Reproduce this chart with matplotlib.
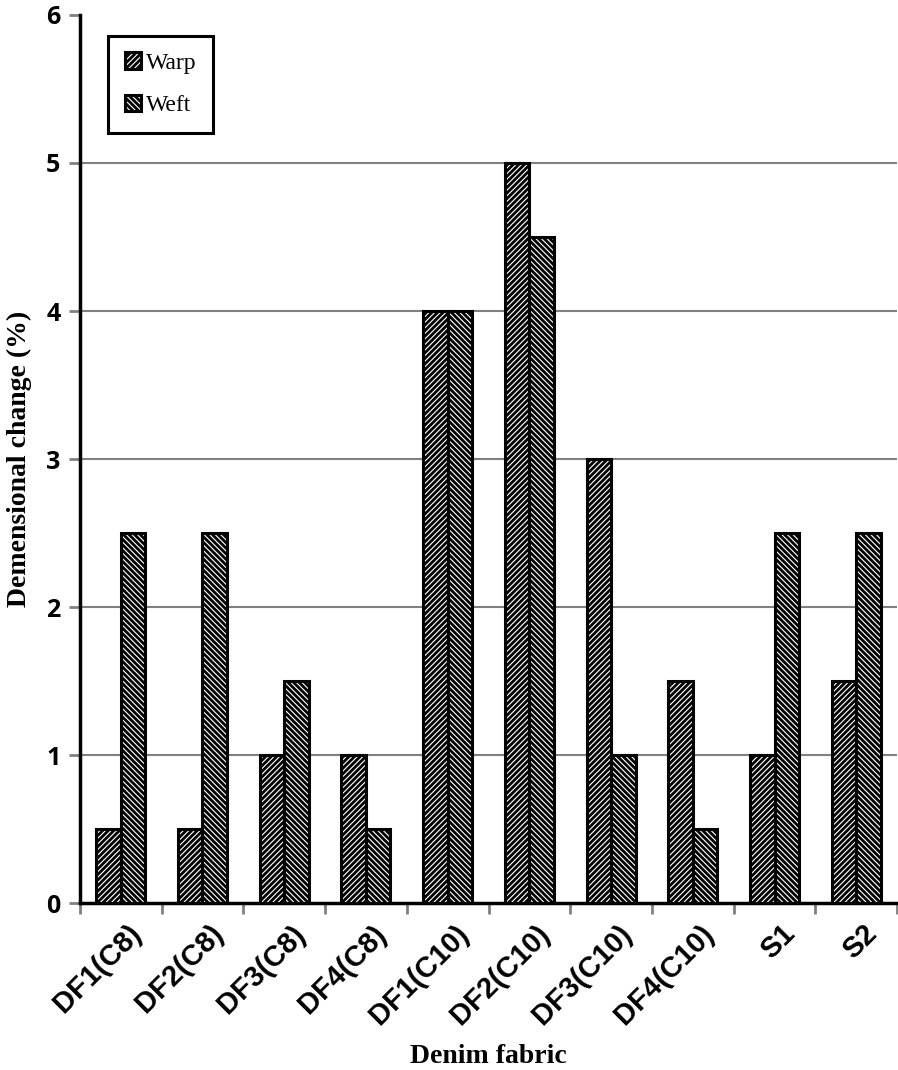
import matplotlib.pyplot as plt
import numpy as np

categories = ["DF1(C8)", "DF2(C8)", "DF3(C8)", "DF4(C8)", "DF1(C10)",
              "DF2(C10)", "DF3(C10)", "DF4(C10)", "S1", "S2"]
warp = [0.5, 0.5, 1.0, 1.0, 4.0, 5.0, 3.0, 1.5, 1.0, 1.5]
weft = [2.5, 2.5, 1.5, 0.5, 4.0, 4.5, 1.0, 0.5, 2.5, 2.5]
yticks = [0, 1, 2, 3, 4, 5, 6]

plt.rcParams['hatch.linewidth'] = 2.0

fig = plt.figure(figsize=(8.98, 10.7), dpi=100)
ax = fig.add_axes([0.089, 0.156, 0.91, 0.83])

x = np.arange(len(categories))
w = 0.3
ax.bar(x - w/2, warp, w, facecolor='white', edgecolor='black', linewidth=2.2,
       hatch='//////', label='Warp', zorder=3)
ax.bar(x + w/2, weft, w, facecolor='white', edgecolor='black', linewidth=2.2,
       hatch='\\\\\\\\\\\\', label='Weft', zorder=3)

ax.set_xlim(-0.5, len(categories) - 0.5)
ax.set_ylim(0, 6)
ax.set_yticks(yticks)
ax.set_xticks(np.arange(len(categories) + 1) - 0.5, minor=False)
ax.set_xticklabels([])
ax.set_xticks(x + 0.08, minor=True)
ax.set_xticklabels(categories, minor=True, rotation=45, ha='right',
                   rotation_mode='anchor', fontsize=21, fontweight='bold',
                   family='Liberation Sans')
ax.tick_params(axis='x', which='minor', length=0, pad=12)
ax.tick_params(axis='x', which='major', length=8, color='#808080', width=2)
ax.tick_params(axis='y', length=8, color='#808080', width=2, pad=6)
for lbl in ax.get_yticklabels():
    lbl.set_fontsize(18)
    lbl.set_fontweight('bold')
    lbl.set_family('Open Sans')

for yv in yticks[1:-1]:
    ax.axhline(yv, color='#808080', linewidth=1.5, zorder=1)

for s in ['top', 'right']:
    ax.spines[s].set_visible(False)
for s in ['left', 'bottom']:
    ax.spines[s].set_linewidth(2.5)

ax.set_ylabel("Demensional change (%)", fontsize=20, fontweight='bold',
              family='Liberation Serif', labelpad=10)
ax.set_xlabel("Denim fabric", fontsize=20, fontweight='bold',
              family='Liberation Serif', labelpad=10)

leg = ax.legend(loc='upper left', bbox_to_anchor=(0.02, 0.99),
                prop={'family': 'Liberation Serif', 'size': 17},
                fancybox=False, edgecolor='black', framealpha=1,
                handlelength=0.7, handleheight=0.7, handletextpad=0.2,
                borderpad=0.7, labelspacing=0.9)
leg.get_frame().set_linewidth(2.2)

fig.savefig("out.png", dpi=100)
